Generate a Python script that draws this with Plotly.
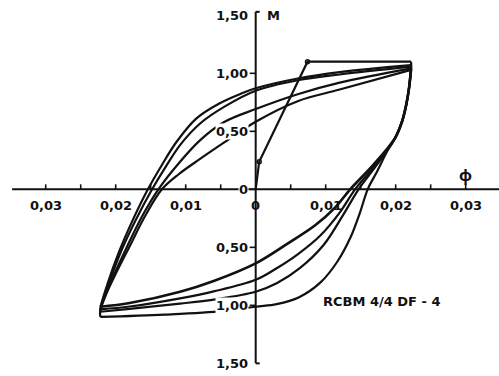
import plotly.graph_objects as go

# ---- data: moment M vs curvature phi, cyclic test RCBM 4/4 DF-4 ----

# virgin loading path (straight segments, with the two marked points)
LOAD_PHI = [0.0, 0.0005, 0.0074, 0.0222]
LOAD_M = [0.0, 0.238, 1.10, 1.10]
MARK_PHI = [0.0005, 0.0074]
MARK_M = [0.238, 1.10]

# unloading branches (positive peak -> negative peak), cycles 1..4
U1_PHI = [0.0222, 0.0222, 0.0219, 0.0215, 0.0209, 0.0199, 0.0188, 0.0174, 0.0160,
          0.0149, 0.0135, 0.0117, 0.0093, 0.0062, 0.0030, 0.0, -0.0047, -0.0130, -0.0222]
U1_M = [1.10, 1.03, 0.87, 0.727, 0.583, 0.44, 0.33, 0.16, 0.0,
        -0.20, -0.42, -0.62, -0.80, -0.93, -0.99, -1.012, -1.05, -1.08, -1.10]

U2_PHI = [0.0222, 0.0219, 0.0215, 0.0209, 0.0199, 0.0173, 0.0147, 0.0125, 0.0097,
          0.0063, 0.0030, 0.0, -0.0060, -0.0108, -0.0180, -0.0222]
U2_M = [1.07, 0.87, 0.727, 0.583, 0.44, 0.21, 0.0, -0.22, -0.48,
        -0.68, -0.81, -0.883, -0.95, -0.985, -1.03, -1.055]

U3_PHI = [0.0222, 0.0219, 0.0215, 0.0209, 0.0199, 0.0171, 0.0142, 0.0120, 0.0092,
          0.0060, 0.0030, 0.0, -0.0060, -0.0108, -0.0180, -0.0222]
U3_M = [1.057, 0.87, 0.727, 0.583, 0.44, 0.21, 0.0, -0.20, -0.40,
        -0.56, -0.68, -0.78, -0.88, -0.94, -1.01, -1.034]

U4_PHI = [0.0222, 0.0219, 0.0215, 0.0209, 0.0199, 0.0168, 0.0135, 0.0113, 0.0085,
          0.0045, 0.0, -0.0060, -0.0108, -0.0180, -0.0222]
U4_M = [1.043, 0.87, 0.727, 0.583, 0.44, 0.21, 0.0, -0.16, -0.31,
        -0.47, -0.638, -0.79, -0.883, -0.98, -1.012]

# reloading branches (negative peak -> positive peak), cycles 1..4
R1_PHI = [-0.0222, -0.0222, -0.0212, -0.0196, -0.0176, -0.0154, -0.0134, -0.0113,
          -0.0085, -0.0052, -0.0021, 0.0, 0.0060, 0.0120, 0.0222]
R1_M = [-1.10, -1.03, -0.82, -0.55, -0.27, 0.0, 0.21, 0.41,
        0.61, 0.74, 0.825, 0.871, 0.955, 1.01, 1.07]

R2_PHI = [-0.0222, -0.0220, -0.0209, -0.0192, -0.0171, -0.0148, -0.0128, -0.0107,
          -0.0079, -0.0044, 0.0, 0.0060, 0.0120, 0.0222]
R2_M = [-1.055, -1.00, -0.80, -0.53, -0.26, 0.0, 0.20, 0.39,
        0.57, 0.715, 0.85, 0.94, 0.99, 1.057]

R3_PHI = [-0.0222, -0.0218, -0.0204, -0.0185, -0.0163, -0.0139, -0.0112, -0.0080,
          -0.0045, 0.0, 0.0060, 0.0120, 0.0222]
R3_M = [-1.034, -0.97, -0.76, -0.51, -0.24, 0.0, 0.21, 0.42,
        0.58, 0.692, 0.82, 0.92, 1.043]

R4_PHI = [-0.0222, -0.0216, -0.0201, -0.0180, -0.0158, -0.0134, -0.0110, -0.0080,
          -0.0046, 0.0, 0.0060, 0.0120, 0.0222]
R4_M = [-1.012, -0.93, -0.74, -0.49, -0.23, 0.0, 0.13, 0.26,
        0.40, 0.583, 0.76, 0.86, 1.03]

# axes: tick positions and labels (negative side labelled by magnitude)
X_TICKS = [-0.03, -0.025, -0.02, -0.015, -0.01, -0.005,
           0.005, 0.01, 0.015, 0.02, 0.025, 0.03]
X_LABEL_VALS = [-0.03, -0.02, -0.01, 0.0, 0.01, 0.02, 0.03]
X_LABELS = ["0,03", "0,02", "0,01", "0", "0,01", "0,02", "0,03"]
Y_TICKS = [-1.0, -0.5, 0.0, 0.5, 1.0]
Y_LABEL_VALS = [-1.5, -1.0, -0.5, 0.0, 0.5, 1.0, 1.5]
Y_LABELS = ["1,50", "1,00", "0,50", "0", "0,50", "1,00", "1,50"]
X_AXIS_SPAN = [-0.0348, 0.0348]
Y_AXIS_SPAN = [-1.50, 1.53]
TITLE = "RCBM 4/4 DF - 4"

INK = "#111111"
FONT = dict(family="DejaVu Sans", size=13, color=INK, weight="bold")
CURVE_W = 2.2

fig = go.Figure()

# virgin curve
fig.add_trace(go.Scatter(x=LOAD_PHI, y=LOAD_M, mode="lines",
                         line=dict(color=INK, width=CURVE_W), hoverinfo="skip"))
fig.add_trace(go.Scatter(x=MARK_PHI, y=MARK_M, mode="markers",
                         marker=dict(symbol="circle-open", size=4,
                                     color=INK, line=dict(width=1.5)),
                         hoverinfo="skip"))

branches = [
    (U1_PHI, U1_M, CURVE_W), (R1_PHI, R1_M, CURVE_W),
    (U2_PHI, U2_M, CURVE_W), (R2_PHI, R2_M, CURVE_W),
    (U3_PHI, U3_M, CURVE_W), (R3_PHI, R3_M, CURVE_W),
    (U4_PHI, U4_M, 2.7), (R4_PHI, R4_M, CURVE_W),
]
for px, pm, w in branches:
    fig.add_trace(go.Scatter(x=px, y=pm, mode="lines",
                             line=dict(color=INK, width=w, shape="spline",
                                       smoothing=1.0),
                             hoverinfo="skip"))

shapes = []
# axis lines
shapes.append(dict(type="line", xref="x", yref="y", x0=X_AXIS_SPAN[0], x1=X_AXIS_SPAN[1],
                   y0=0, y1=0, line=dict(color=INK, width=2)))
shapes.append(dict(type="line", xref="x", yref="y", x0=0, x1=0,
                   y0=Y_AXIS_SPAN[0], y1=Y_AXIS_SPAN[1], line=dict(color=INK, width=2)))
# end caps of the M axis
for yv in Y_AXIS_SPAN:
    shapes.append(dict(type="line", xref="x", yref="y", xsizemode="pixel", xanchor=0,
                       x0=0, x1=4, y0=yv, y1=yv, line=dict(color=INK, width=2)))
# x ticks (upward)
for xv in X_TICKS:
    shapes.append(dict(type="line", xref="x", yref="y", ysizemode="pixel", yanchor=0,
                       x0=xv, x1=xv, y0=0, y1=5, line=dict(color=INK, width=1.6)))
# y ticks (to the left)
for yv in Y_TICKS:
    shapes.append(dict(type="line", xref="x", yref="y", xsizemode="pixel", xanchor=0,
                       x0=-6, x1=0, y0=yv, y1=yv, line=dict(color=INK, width=1.6)))

annotations = []
for xv, txt in zip(X_LABEL_VALS, X_LABELS):
    annotations.append(dict(x=xv, y=0, xref="x", yref="y", text=txt, showarrow=False,
                            yshift=-16, xanchor="center", yanchor="middle", font=FONT))
for yv, txt in zip(Y_LABEL_VALS, Y_LABELS):
    annotations.append(dict(x=0, y=yv, xref="x", yref="y", text=txt, showarrow=False,
                            xshift=-7, xanchor="right", yanchor="middle", font=FONT,
                            bgcolor="white", borderpad=0))
annotations.append(dict(x=0, y=1.5, xref="x", yref="y", text="M", showarrow=False,
                        xshift=9, xanchor="left", yanchor="middle", font=FONT))
annotations.append(dict(x=0.03, y=0, xref="x", yref="y", text="φ", showarrow=False,
                        yshift=14, xanchor="center", yanchor="middle",
                        font=dict(family="Noto Sans", size=16, color=INK, weight="bold")))
annotations.append(dict(x=0.0094, y=-0.963, xref="x", yref="y", text=TITLE,
                        showarrow=False, xanchor="left", yanchor="middle", font=FONT))

fig.update_layout(
    width=499, height=376,
    margin=dict(l=0, r=0, t=0, b=0),
    paper_bgcolor="white", plot_bgcolor="white",
    showlegend=False,
    xaxis=dict(range=[-0.03653, 0.03476], visible=False, fixedrange=True),
    yaxis=dict(range=[-1.609, 1.632], visible=False, fixedrange=True),
    shapes=shapes,
    annotations=annotations,
)

fig.write_html("out.html")
